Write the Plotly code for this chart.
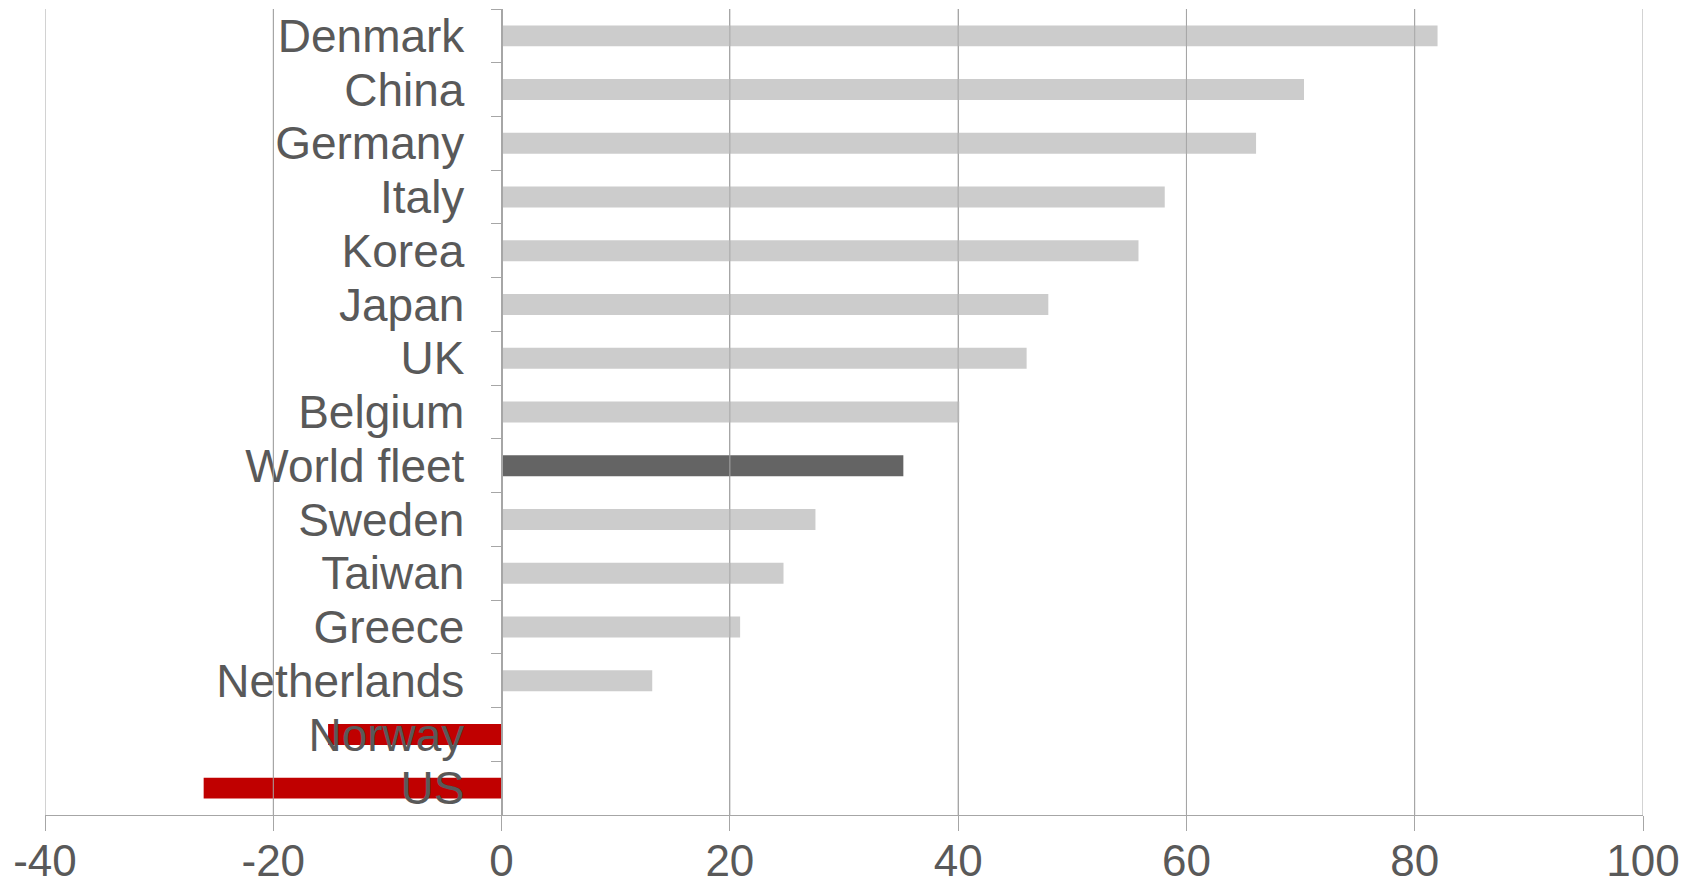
import plotly.graph_objects as go

countries = ["Denmark", "China", "Germany", "Italy", "Korea", "Japan", "UK", "Belgium",
             "World fleet", "Sweden", "Taiwan", "Greece", "Netherlands", "Norway", "US"]
values = [82.0, 70.3, 66.1, 58.1, 55.8, 47.9, 46.0, 40.1, 35.2, 27.5, 24.7, 20.9, 13.2, -15.2, -26.1]
x_ticks = [-40, -20, 0, 20, 40, 60, 80, 100]

def bar_color(name, v):
    if name == "World fleet":
        return "#646464"
    if v < 0:
        return "#c00000"
    return "#cccccc"

colors = [bar_color(c, v) for c, v in zip(countries, values)]

fig = go.Figure(go.Bar(
    x=values, y=countries, orientation="h",
    marker=dict(color=colors, line=dict(width=0)),
    width=0.39,
))

font_color = "#595959"
grid_color = "#a6a6a6"
fsize = 46

fig.update_layout(
    width=1696, height=888,
    margin=dict(l=45, r=53, t=9, b=73),
    plot_bgcolor="white", paper_bgcolor="white",
    showlegend=False,
    font=dict(family="Liberation Sans, Arial, sans-serif", size=fsize, color=font_color),
)
fig.update_xaxes(
    range=[-40, 100], tickvals=x_ticks, ticktext=[str(t) for t in x_ticks],
    showgrid=True, gridcolor=grid_color, gridwidth=1,
    zeroline=False,
    showline=True, linecolor=grid_color, linewidth=1,
    ticks="outside", ticklen=15, tickcolor=grid_color,
    tickfont=dict(size=44, color=font_color),
    ticklabelstandoff=-8,
    layer="above traces", automargin=False,
)
fig.update_yaxes(
    categoryorder="array", categoryarray=countries, autorange="reversed",
    tickmode="linear", tick0=0, dtick=1,
    anchor="free", position=2/7,
    showline=True, linecolor=grid_color, linewidth=1,
    ticks="outside", ticklen=11, tickcolor=grid_color, tickson="boundaries",
    showgrid=False,
    tickfont=dict(size=fsize, color=font_color),
    ticklabelstandoff=28, automargin=False,
    layer="above traces",
)

# gridlines drawn over the bars, as in the reference
for t in x_ticks:
    fig.add_shape(type="line", xref="x", yref="paper", x0=t, x1=t, y0=0, y1=1,
                  line=dict(color=grid_color, width=1), layer="above")

fig.write_html("out.html")
